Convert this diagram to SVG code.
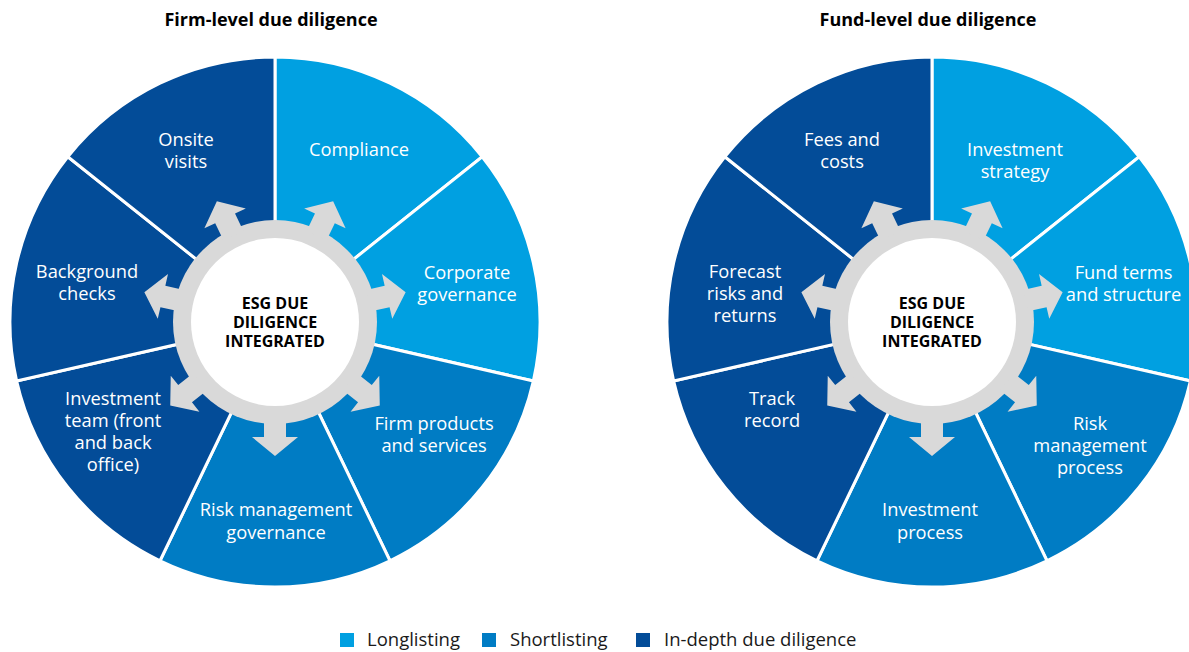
<svg xmlns="http://www.w3.org/2000/svg" xmlns:xlink="http://www.w3.org/1999/xlink" width="1189" height="652" viewBox="0 0 1189 652">
<style>
.light{fill:#00A0E1;}
.med{fill:#007CC4;}
.dark{fill:#034C98;}
.seg{stroke:#FFFFFF;stroke-width:3;stroke-linejoin:miter;}
.lbl{font-family:"Open Sans","Noto Sans","Liberation Sans",sans-serif;font-size:18.3px;fill:#FFFFFF;text-anchor:middle;}
.ctr{font-family:"Open Sans","Noto Sans","Liberation Sans",sans-serif;font-size:16px;font-weight:700;fill:#000000;text-anchor:middle;}
.ttl{font-family:"Open Sans","Noto Sans","Liberation Sans",sans-serif;font-size:18px;font-weight:700;fill:#000000;text-anchor:middle;}
.leg{font-family:"Open Sans","Noto Sans","Liberation Sans",sans-serif;font-size:18.5px;fill:#1A1A1A;}
.ring{fill:#D9D9D9;}
</style>
<defs>
<path id="arr" d="M -11,-96 L -11,-115 L -23,-115 L 0,-134 L 23,-115 L 11,-115 L 11,-96 Z" fill="#D9D9D9"/>
</defs>

<text class="ttl" x="271" y="26">Firm-level due diligence</text>
<text class="ttl" x="928" y="26">Fund-level due diligence</text>

<g id="chart-firm" transform="translate(275,322)">
  <g id="firm-compliance">
    <path class="seg light" d="M0,0 L0,-265 A265,265 0 0 1 207.19,-165.22 Z"/>
    <text class="lbl" x="84" y="-166">Compliance</text>
  </g>
  <g id="firm-corporate-governance">
    <path class="seg light" d="M0,0 L207.19,-165.22 A265,265 0 0 1 258.36,58.97 Z"/>
    <text class="lbl" x="192" y="-43">Corporate</text>
    <text class="lbl" x="192" y="-21">governance</text>
  </g>
  <g id="firm-products">
    <path class="seg med" d="M0,0 L258.36,58.97 A265,265 0 0 1 114.98,238.76 Z"/>
    <text class="lbl" x="159" y="108">Firm products</text>
    <text class="lbl" x="159" y="130">and services</text>
  </g>
  <g id="firm-risk-governance">
    <path class="seg med" d="M0,0 L114.98,238.76 A265,265 0 0 1 -114.98,238.76 Z"/>
    <text class="lbl" x="1" y="194">Risk management</text>
    <text class="lbl" x="1" y="217">governance</text>
  </g>
  <g id="firm-investment-team">
    <path class="seg dark" d="M0,0 L-114.98,238.76 A265,265 0 0 1 -258.36,58.97 Z"/>
    <text class="lbl" x="-162" y="83">Investment</text>
    <text class="lbl" x="-162" y="105">team (front</text>
    <text class="lbl" x="-162" y="127">and back</text>
    <text class="lbl" x="-162" y="149">office)</text>
  </g>
  <g id="firm-background-checks">
    <path class="seg dark" d="M0,0 L-258.36,58.97 A265,265 0 0 1 -207.19,-165.22 Z"/>
    <text class="lbl" x="-188" y="-44">Background</text>
    <text class="lbl" x="-188" y="-22">checks</text>
  </g>
  <g id="firm-onsite-visits">
    <path class="seg dark" d="M0,0 L-207.19,-165.22 A265,265 0 0 1 0,-265 Z"/>
    <text class="lbl" x="-89" y="-176">Onsite</text>
    <text class="lbl" x="-89" y="-154">visits</text>
  </g>
  <g id="firm-center">
    <circle class="ring" r="102"/>
    <use xlink:href="#arr" href="#arr" transform="rotate(25.714)"/>
    <use xlink:href="#arr" href="#arr" transform="rotate(77.143)"/>
    <use xlink:href="#arr" href="#arr" transform="rotate(128.571)"/>
    <use xlink:href="#arr" href="#arr" transform="rotate(180)"/>
    <use xlink:href="#arr" href="#arr" transform="rotate(231.429)"/>
    <use xlink:href="#arr" href="#arr" transform="rotate(282.857)"/>
    <use xlink:href="#arr" href="#arr" transform="rotate(334.286)"/>
    <circle r="84" fill="#FFFFFF"/>
    <text class="ctr" x="0" y="-13">ESG DUE</text>
    <text class="ctr" x="0" y="6">DILIGENCE</text>
    <text class="ctr" x="0" y="25">INTEGRATED</text>
  </g>
</g>

<g id="chart-fund" transform="translate(932,322)">
  <g id="fund-investment-strategy">
    <path class="seg light" d="M0,0 L0,-265 A265,265 0 0 1 207.19,-165.22 Z"/>
    <text class="lbl" x="83" y="-166">Investment</text>
    <text class="lbl" x="83" y="-144">strategy</text>
  </g>
  <g id="fund-terms-structure">
    <path class="seg light" d="M0,0 L207.19,-165.22 A265,265 0 0 1 258.36,58.97 Z"/>
    <text class="lbl" x="191.5" y="-43">Fund terms</text>
    <text class="lbl" x="191.5" y="-21">and structure</text>
  </g>
  <g id="fund-risk-process">
    <path class="seg med" d="M0,0 L258.36,58.97 A265,265 0 0 1 114.98,238.76 Z"/>
    <text class="lbl" x="158" y="108">Risk</text>
    <text class="lbl" x="158" y="130">management</text>
    <text class="lbl" x="158" y="152">process</text>
  </g>
  <g id="fund-investment-process">
    <path class="seg med" d="M0,0 L114.98,238.76 A265,265 0 0 1 -114.98,238.76 Z"/>
    <text class="lbl" x="-2" y="194">Investment</text>
    <text class="lbl" x="-2" y="217">process</text>
  </g>
  <g id="fund-track-record">
    <path class="seg dark" d="M0,0 L-114.98,238.76 A265,265 0 0 1 -258.36,58.97 Z"/>
    <text class="lbl" x="-160" y="83">Track</text>
    <text class="lbl" x="-160" y="105">record</text>
  </g>
  <g id="fund-forecast">
    <path class="seg dark" d="M0,0 L-258.36,58.97 A265,265 0 0 1 -207.19,-165.22 Z"/>
    <text class="lbl" x="-187" y="-44">Forecast</text>
    <text class="lbl" x="-187" y="-22">risks and</text>
    <text class="lbl" x="-187" y="0">returns</text>
  </g>
  <g id="fund-fees-costs">
    <path class="seg dark" d="M0,0 L-207.19,-165.22 A265,265 0 0 1 0,-265 Z"/>
    <text class="lbl" x="-90" y="-176">Fees and</text>
    <text class="lbl" x="-90" y="-154">costs</text>
  </g>
  <g id="fund-center">
    <circle class="ring" r="102"/>
    <use xlink:href="#arr" href="#arr" transform="rotate(25.714)"/>
    <use xlink:href="#arr" href="#arr" transform="rotate(77.143)"/>
    <use xlink:href="#arr" href="#arr" transform="rotate(128.571)"/>
    <use xlink:href="#arr" href="#arr" transform="rotate(180)"/>
    <use xlink:href="#arr" href="#arr" transform="rotate(231.429)"/>
    <use xlink:href="#arr" href="#arr" transform="rotate(282.857)"/>
    <use xlink:href="#arr" href="#arr" transform="rotate(334.286)"/>
    <circle r="84" fill="#FFFFFF"/>
    <text class="ctr" x="0" y="-13">ESG DUE</text>
    <text class="ctr" x="0" y="6">DILIGENCE</text>
    <text class="ctr" x="0" y="25">INTEGRATED</text>
  </g>
</g>

<g id="connectors"></g>

<g id="legend">
  <rect class="light" x="340" y="633" width="14" height="14"/>
  <text class="leg" x="367" y="646">Longlisting</text>
  <rect class="med" x="482" y="633" width="14" height="14"/>
  <text class="leg" x="510" y="646">Shortlisting</text>
  <rect class="dark" x="636" y="633" width="14" height="14"/>
  <text class="leg" x="664" y="646">In-depth due diligence</text>
</g>
</svg>
